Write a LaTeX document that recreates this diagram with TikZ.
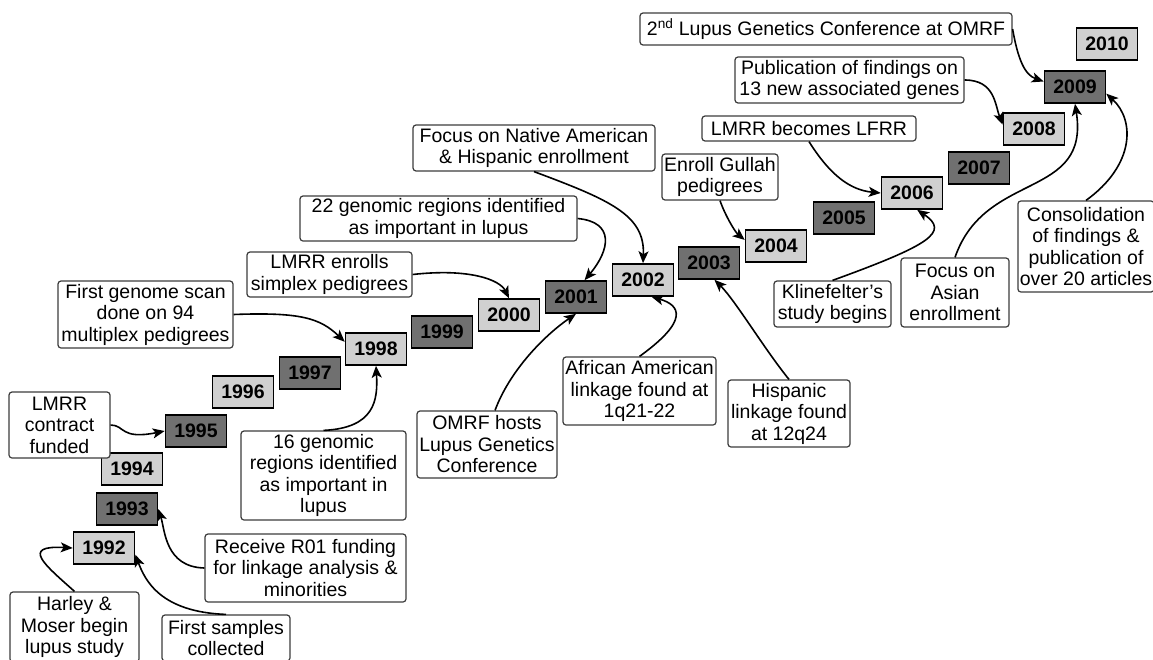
\documentclass[tikz,border=0pt]{standalone}
\usepackage{fontspec}
\setmainfont{Liberation Sans}
\usepackage{tikz}
\usetikzlibrary{arrows.meta}
\usepackage{xcolor}
\definecolor{yrLight}{RGB}{208, 208, 208}
\definecolor{yrDark}{RGB}{112, 112, 112}
\definecolor{evtLine}{RGB}{60, 60, 60}

\begin{document}
\begin{tikzpicture}[x=1pt, y=-1pt, font=\fontsize{19.5}{21.5}\selectfont,
  yr/.style={draw=black, line width=1.6pt, minimum width=61pt, minimum height=32pt, inner sep=0pt, font=\fontsize{19.5}{21.5}\selectfont\bfseries},
  yrlight/.style={yr, fill=yrLight},
  yrdark/.style={yr, fill=yrDark},
  evt/.style={draw=evtLine, line width=1.2pt, fill=white, rounded corners=3pt, align=center, inner xsep=2pt, inner ysep=2pt},
  link/.style={line width=1.6pt, -{Stealth[length=12pt, width=10pt, inset=3pt]}}]
  \useasboundingbox[fill=white] (0,0) rectangle (1153,659);

  % years climbing from bottom left to top right
  \node[yrlight] (y1992) at (104,548) {1992};
  \node[yrdark]  (y1993) at (127,509) {1993};
  \node[yrlight] (y1994) at (132,469) {1994};
  \node[yrdark]  (y1995) at (196,431) {1995};
  \node[yrlight] (y1996) at (243,392) {1996};
  \node[yrdark]  (y1997) at (310,373) {1997};
  \node[yrlight] (y1998) at (376,349) {1998};
  \node[yrdark]  (y1999) at (442,332) {1999};
  \node[yrlight] (y2000) at (509,315) {2000};
  \node[yrdark]  (y2001) at (576,297) {2001};
  \node[yrlight] (y2002) at (643,280) {2002};
  \node[yrdark]  (y2003) at (709,263) {2003};
  \node[yrlight] (y2004) at (776,246) {2004};
  \node[yrdark]  (y2005) at (844,218) {2005};
  \node[yrlight] (y2006) at (912,193) {2006};
  \node[yrdark]  (y2007) at (979,168) {2007};
  \node[yrlight] (y2008) at (1034,129) {2008};
  \node[yrdark]  (y2009) at (1075,87) {2009};
  \node[yrlight] (y2010) at (1107,44) {2010};

  % events
  \node[evt, minimum width=129pt, minimum height=70pt] (harley) at (74.5,627) {Harley \&\\Moser begin\\lupus study};
  \node[evt, minimum width=128pt, minimum height=46pt] (fs) at (226,638) {First samples\\collected};
  \node[evt, minimum width=201pt, minimum height=68pt] (r01) at (305.5,568) {Receive R01 funding\\for linkage analysis \&\\minorities};
  \node[evt, minimum width=101pt, minimum height=66pt] (lc) at (59.5,425) {LMRR\\contract\\funded};
  \node[evt, minimum width=165pt, minimum height=89pt] (g16) at (323.5,475.5) {16 genomic\\regions identified\\as important in\\lupus};
  \node[evt, minimum width=175pt, minimum height=67pt] (fg) at (145.5,314.5) {First genome scan\\done on 94\\multiplex pedigrees};
  \node[evt, minimum width=165pt, minimum height=45pt] (le) at (329.5,274.5) {LMRR enrolls\\simplex pedigrees};
  \node[evt, minimum width=277pt, minimum height=45pt] (g22) at (438.5,218.5) {22 genomic regions identified\\as important in lupus};
  \node[evt, minimum width=242pt, minimum height=46pt] (fna) at (534,148) {Focus on Native American\\\& Hispanic enrollment};
  \node[evt, minimum width=140pt, minimum height=67pt] (om) at (487,444.5) {OMRF hosts\\Lupus Genetics\\Conference};
  \node[evt, minimum width=153pt, minimum height=68pt] (aa) at (639.5,391) {African American\\linkage found at\\1q21-22};
  \node[evt, minimum width=122pt, minimum height=67pt] (hi) at (789,413.5) {Hispanic\\linkage found\\at 12q24};
  \node[evt, minimum width=116pt, minimum height=46pt] (eg) at (720,177) {Enroll Gullah\\pedigrees};
  \node[evt, minimum width=214pt, minimum height=25pt] (lb) at (809,128.5) {LMRR becomes LFRR};
  \node[evt, minimum width=117pt, minimum height=46pt] (kl) at (832.5,304) {Klinefelter's\\study begins};
  \node[evt, minimum width=108pt, minimum height=69pt] (fa) at (955,292.5) {Focus on\\Asian\\enrollment};
  \node[evt, minimum width=132pt, minimum height=91pt] (co) at (1086,246.5) {Consolidation\\of findings \&\\publication of\\over 20 articles};
  \node[evt, minimum width=229pt, minimum height=46pt] (pub) at (849.5,80) {Publication of findings on\\13 new associated genes};
  \node[evt, minimum width=372pt, minimum height=32pt] (lu) at (826,29) {2\textsuperscript{nd} Lupus Genetics Conference at OMRF};

  % connectors
  \draw[link] (harley.north) .. controls (45,565) and (20,545) .. (y1992.west);
  \draw[link] (fs.north) .. controls (160,612) and (145,580) .. (y1992.-12);
  \draw[link] (r01.west) .. controls (165,567) and (165,530) .. (y1993.east);
  \draw[link] (lc.east) .. controls (125,425) and (120,440) .. (y1995.west);
  \draw[link] (g16.north) .. controls (375,428) and (378,400) .. (y1998.south);
  \draw[link] (fg.east) .. controls (300,312) and (320,318) .. (y1998.167);
  \draw[link] (le.east) .. controls (470,268) and (500,280) .. (y2000.north);
  \draw[link] (g22.east) .. controls (615,222) and (610,250) .. (y2001.63);
  \draw[link] (fna.south) .. controls (610,200) and (645,215) .. (y2002.north);
  \draw[link] ([xshift=8pt]om.north) .. controls (510,370) and (545,335) .. (y2001.south);
  \draw[link] (aa.north) .. controls (690,320) and (680,305) .. (y2002.-63);
  \draw[link] (hi.north) .. controls (765,350) and (735,300) .. (y2003.-72);
  \draw[link] (eg.south) .. controls (725,215) and (735,232) .. (y2004.169);
  \draw[link] (lb.south) .. controls (830,175) and (850,190) .. (y2006.west);
  \draw[link] (kl.north) .. controls (930,245) and (950,232) .. (y2006.-73);
  \draw[link] (fa.north) .. controls (985,170) and (1090,200) .. (y2009.south);
  \draw[link] (co.north) .. controls (1135,165) and (1135,120) .. (y2009.-12);
  \draw[link] (pub.east) .. controls (995,80) and (995,105) .. (y2008.172);
  \draw[link] (lu.east) .. controls (1018,60) and (1025,75) .. (y2009.170);
\end{tikzpicture}
\end{document}
